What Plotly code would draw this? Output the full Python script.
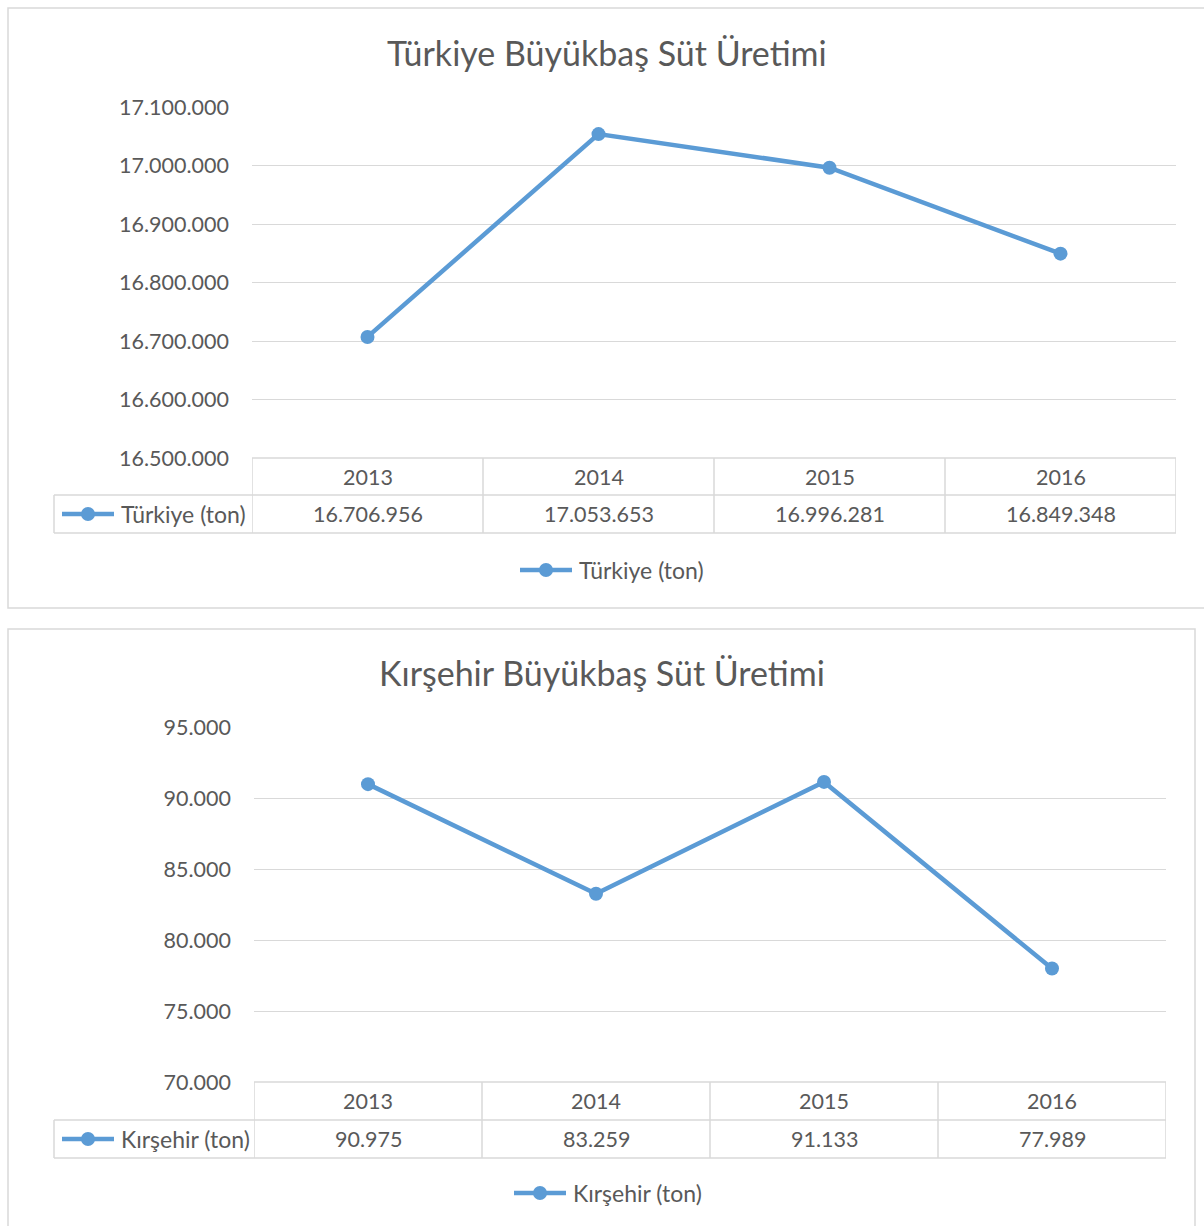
import plotly.graph_objects as go

W, H = 1204, 1226

years = ["2013", "2014", "2015", "2016"]
turkiye = [16706956, 17053653, 16996281, 16849348]
kirsehir = [90975, 83259, 91133, 77989]
turkiye_name = "Türkiye (ton)"
kirsehir_name = "Kırşehir (ton)"
turkiye_title = "Türkiye Büyükbaş Süt Üretimi"
kirsehir_title = "Kırşehir Büyükbaş Süt Üretimi"
turkiye_ticks = [16500000, 16600000, 16700000, 16800000, 16900000, 17000000, 17100000]
kirsehir_ticks = [70000, 75000, 80000, 85000, 90000, 95000]

BLUE = "#5b9bd5"
GRID = "#d9d9d9"
TXT = "#595959"
FONT = "Lato"


def px(x):
    return x / W


def py(y):
    return 1 - y / H


def fmt(v):
    return f"{v:,}".replace(",", ".")


fig = go.Figure()

charts = [
    dict(vals=turkiye, name=turkiye_name, title=turkiye_title, ticks=turkiye_ticks,
         x0=252, x1=1176, ytop=107, ybot=458, hdr=495, row=533,
         legx=54, title_xy=(607, 52), leg_xy=(520, 570), box=(8, 8, 1214, 608)),
    dict(vals=kirsehir, name=kirsehir_name, title=kirsehir_title, ticks=kirsehir_ticks,
         x0=254, x1=1166, ytop=727, ybot=1082, hdr=1120, row=1158,
         legx=54, title_xy=(602, 672), leg_xy=(514, 1193), box=(8, 629, 1195, 1240)),
]

shapes = []
annotations = []
idx = list(range(len(years)))

for i, c in enumerate(charts):
    sfx = "" if i == 0 else "2"
    xr = "x" + sfx
    yr_ = "y" + sfx
    fig.add_trace(go.Scatter(
        x=years, y=c["vals"], name=c["name"], mode="lines+markers",
        line=dict(color=BLUE, width=4.5), marker=dict(color=BLUE, size=14),
        xaxis=xr, yaxis=yr_, hoverinfo="x+y"))
    fig.update_layout(**{
        "xaxis" + sfx: dict(type="category", domain=[px(c["x0"]), px(c["x1"])],
                            range=[-0.5, len(years) - 0.5],
                            showgrid=False, showticklabels=False, zeroline=False,
                            showline=False, anchor=yr_, fixedrange=True, automargin=False),
        "yaxis" + sfx: dict(domain=[py(c["ybot"]), py(c["ytop"])],
                            range=[c["ticks"][0], c["ticks"][-1]],
                            tickvals=c["ticks"], tickformat=",d",
                            showgrid=True, gridcolor=GRID, gridwidth=1,
                            zeroline=False, showline=False, anchor=xr,
                            tickfont=dict(family=FONT, size=21.5, color=TXT),
                            ticklabelstandoff=22, fixedrange=True, automargin=False),
    })
    # chart border
    bx0, by0, bx1, by1 = c["box"]
    shapes.append(dict(type="rect", xref="paper", yref="paper",
                       x0=px(bx0), x1=px(bx1), y0=py(by1), y1=py(by0),
                       line=dict(color=GRID, width=1.5), layer="below"))
    # title
    tx, ty = c["title_xy"]
    annotations.append(dict(x=px(tx), y=py(ty), xref="paper", yref="paper",
                            text=c["title"], showarrow=False, xanchor="center",
                            yanchor="middle",
                            font=dict(family=FONT, size=34, color=TXT)))
    # data table lines
    yb, yh, yr = c["ybot"], c["hdr"], c["row"]
    line = dict(color=GRID, width=1.5)
    shapes.append(dict(type="line", xref="paper", yref="paper", x0=px(c["x0"]), x1=px(c["x1"]),
                       y0=py(yb), y1=py(yb), line=line))
    for yy in (yh, yr):
        shapes.append(dict(type="line", xref="paper", yref="paper", x0=px(c["legx"]), x1=px(c["x1"]),
                           y0=py(yy), y1=py(yy), line=line))
    shapes.append(dict(type="line", xref="paper", yref="paper", x0=px(c["legx"]), x1=px(c["legx"]),
                       y0=py(yr), y1=py(yh), line=line))
    for k in range(len(years) + 1):
        shapes.append(dict(type="line", xref=xr, yref="paper", x0=k - 0.5, x1=k - 0.5,
                           y0=py(yr), y1=py(yb), line=line))
    # table text
    for k, (yrs, v) in enumerate(zip(years, c["vals"])):
        annotations.append(dict(x=k, xref=xr, y=py((yb + yh) / 2), yref="paper",
                                text=yrs, showarrow=False, xanchor="center", yanchor="middle",
                                font=dict(family=FONT, size=21.5, color=TXT)))
        annotations.append(dict(x=k, xref=xr, y=py((yh + yr) / 2), yref="paper",
                                text=fmt(v), showarrow=False, xanchor="center", yanchor="middle",
                                font=dict(family=FONT, size=21.5, color=TXT)))
    # legend keys (in table and below)
    for lx, ly in ((c["legx"] + 8, (yh + yr) / 2), c["leg_xy"]):
        shapes.append(dict(type="line", xref="paper", yref="paper", x0=px(lx), x1=px(lx + 52),
                           y0=py(ly), y1=py(ly), line=dict(color=BLUE, width=4.5)))
        shapes.append(dict(type="circle", xref="paper", yref="paper",
                           x0=px(lx + 26 - 7), x1=px(lx + 26 + 7),
                           y0=py(ly + 7), y1=py(ly - 7),
                           fillcolor=BLUE, line=dict(color=BLUE, width=0)))
        annotations.append(dict(x=px(lx + 57), y=py(ly), xref="paper", yref="paper",
                                text=c["name"], showarrow=False, xanchor="left",
                                yanchor="middle",
                                font=dict(family=FONT, size=23, color=TXT)))

fig.update_layout(width=W, height=H, margin=dict(l=0, r=0, t=0, b=0, pad=0),
                  paper_bgcolor="white", plot_bgcolor="white", showlegend=False,
                  separators=",.", shapes=shapes, annotations=annotations,
                  font=dict(family=FONT, color=TXT))

fig.write_html("out.html", config={"displayModeBar": False},
               post_script="document.body.style.margin='0';document.body.style.overflow='hidden';")
